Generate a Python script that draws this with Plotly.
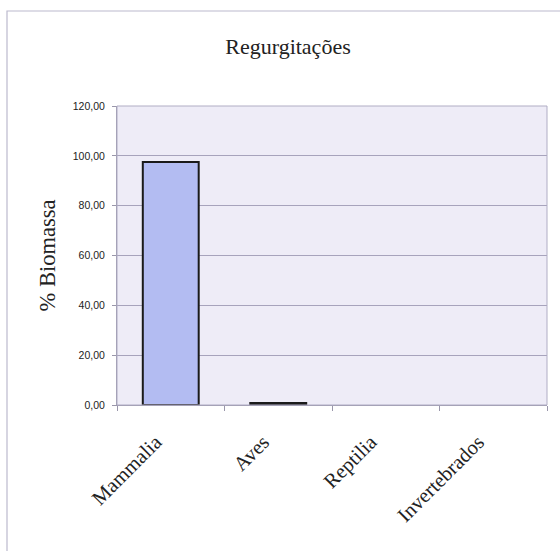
import plotly.graph_objects as go

# Diet composition by prey group (% of biomass)
categories = ["Mammalia", "Aves", "Reptilia", "Invertebrados"]
biomass_pct = [97.5, 0.8, 0.0, 0.0]
y_ticks = [0, 20, 40, 60, 80, 100, 120]

W, H = 560, 551
L, R, T, B = 117, 13, 106, 146
pw, ph = W - L - R, H - T - B

def px_x(x):
    return (x - L) / pw

def px_y(y):
    return (H - B - y) / ph

# zero-valued groups get no outline, so nothing is drawn for them
outline_widths = [2 if v > 0 else 0 for v in biomass_pct]

fig = go.Figure()
fig.add_trace(go.Bar(
    x=categories,
    y=biomass_pct,
    width=0.52,
    marker=dict(color="#B3BCF2", line=dict(color="#1a1a1a", width=outline_widths)),
    hoverinfo="x+y",
))

fig.update_layout(
    width=W,
    height=H,
    margin=dict(l=L, r=R, t=T, b=B),
    paper_bgcolor="white",
    plot_bgcolor="#EEECF7",
    separators=",.",
    showlegend=False,
    title=dict(
        text="Regurgitações",
        x=288 / W,
        xanchor="center",
        y=1 - 46 / H,
        yanchor="middle",
        font=dict(family="Liberation Serif, Times New Roman, serif", size=22, color="#222"),
    ),
    xaxis=dict(
        type="category",
        tickangle=-45,
        ticks="outside",
        tickson="boundaries",
        ticklen=5,
        tickcolor="#9a97ab",
        ticklabelstandoff=16,
        ticklabelshift=-15,
        showline=True,
        linecolor="#9a97ab",
        linewidth=1,
        showgrid=False,
        tickfont=dict(family="Liberation Serif, Times New Roman, serif", size=20.5, color="#222"),
    ),
    yaxis=dict(
        range=[0, 120],
        tickvals=y_ticks,
        tickformat=".2f",
        ticks="outside",
        ticklen=4,
        tickcolor="#9a97ab",
        ticklabelstandoff=5,
        showline=True,
        linecolor="#9a97ab",
        linewidth=1,
        showgrid=True,
        gridcolor="#A7A3BC",
        gridwidth=1,
        zeroline=False,
        tickfont=dict(family="Liberation Sans, Arial, sans-serif", size=10.5, color="#222"),
        title=dict(
            text="% Biomassa",
            font=dict(family="Liberation Serif, Times New Roman, serif", size=22.5, color="#222"),
            standoff=10,
        ),
    ),
    shapes=[
        # outer chart frame
        dict(
            type="rect", xref="paper", yref="paper",
            x0=px_x(7), x1=px_x(570), y0=px_y(565), y1=px_y(11),
            line=dict(color="#BCB9CE", width=1.2), fillcolor="rgba(0,0,0,0)",
            layer="below",
        ),
        # plot area border
        dict(
            type="rect", xref="paper", yref="paper",
            x0=0, x1=1, y0=0, y1=1,
            line=dict(color="#B0ADC4", width=1), fillcolor="rgba(0,0,0,0)",
        ),
    ],
)

fig.write_html("out.html")
